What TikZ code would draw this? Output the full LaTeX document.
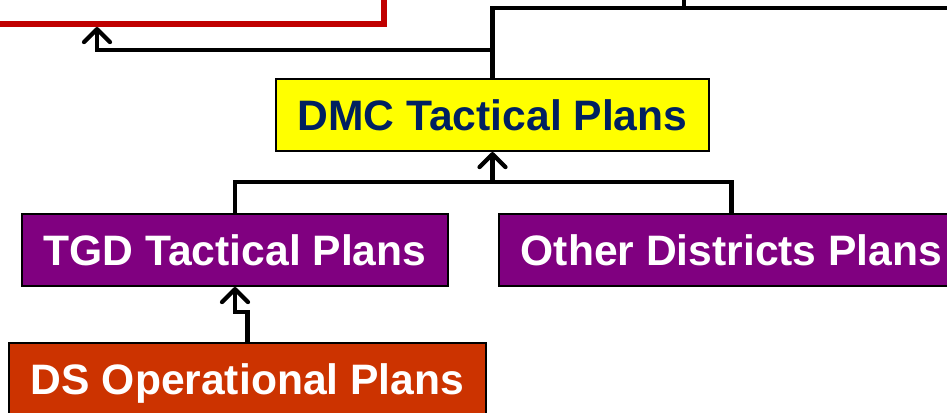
\documentclass[tikz,border=0pt]{standalone}
\usepackage{fontspec}
\setmainfont{Liberation Sans}
\usetikzlibrary{arrows.meta}

\definecolor{goalred}{HTML}{C00000}
\definecolor{dmcyellow}{HTML}{FFFF00}
\definecolor{dmcnavy}{HTML}{002060}
\definecolor{distpurple}{HTML}{800080}
\definecolor{dsorange}{HTML}{CC3300}

\tikzset{
  planbox/.style={draw=black, line width=2pt, inner xsep=22pt, minimum height=72pt,
    text height=30pt, text depth=0pt, text=white,
    font=\bfseries\fontsize{42.6}{48}\selectfont},
  link/.style={line width=4.2pt},
  uplink/.style={link, -{Straight Barb[length=13pt,width=26pt,round]}},
}

\begin{document}
\begin{tikzpicture}[x=1pt,y=1pt,yscale=-1,xscale=1]
\useasboundingbox (0,0) rectangle (947,412);

%Shape: top goal box (cut off)
\node [draw=goalred, line width=6pt, minimum width=600pt, minimum height=200pt, anchor=south east] (goal) at (387,27) {};

% Plan Nodes
\node [planbox, fill=dmcyellow, text=dmcnavy] (dmc) at (492.5,115) {DMC Tactical Plans};
\node [planbox, fill=distpurple] (tgd) at (235,250) {TGD Tactical Plans};
\node [planbox, fill=distpurple] (other) at (731.5,250) {Other Districts Plans};
\node [planbox, fill=dsorange] (ds) at (247.5,379) {DS Operational Plans};

% Bus Points
\coordinate (stratin) at (684,-5);
\coordinate (topbus) at (684,8);
\coordinate (busend) at (960,8);
\coordinate (lturn) at (0,50);
\coordinate (goalx) at (97,0);
\coordinate (midbus) at (492.5,182);

%Straight Lines
\draw [link] (dmc.north) |- (busend);
\draw [link] (topbus) -- (stratin);
\draw [uplink] (dmc.north |- lturn) -| (goalx |- goal.south);
\draw [link] (tgd.north) |- (midbus) -| (other.north);
\draw [uplink] (midbus) -- (dmc.south);
\draw [uplink] (ds.north) -- ++(0,-30) -| (tgd.south);

\end{tikzpicture}
\end{document}
